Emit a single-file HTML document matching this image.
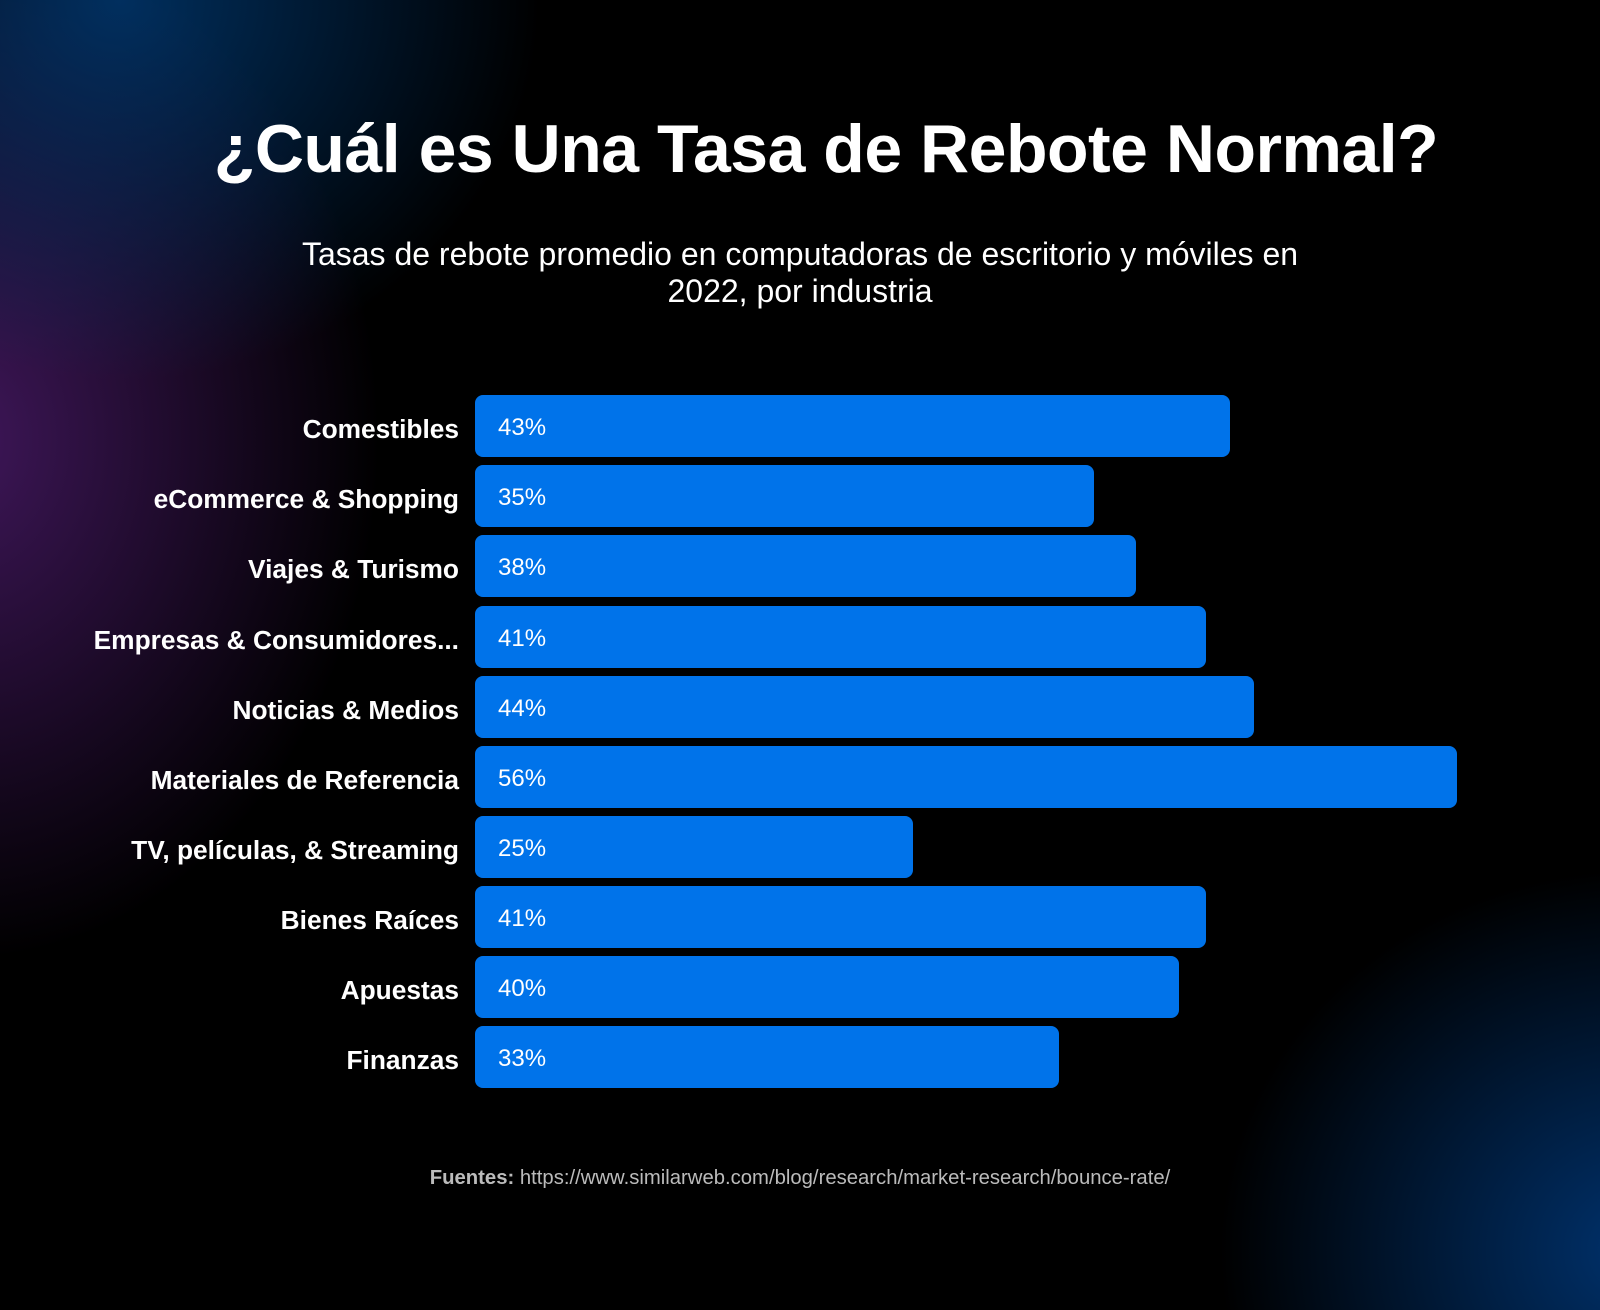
<!DOCTYPE html>
<html><head><meta charset="utf-8"><style>
html,body{margin:0;padding:0}
body{width:1600px;height:1310px;position:relative;overflow:hidden;background:#000;font-family:"Liberation Sans",sans-serif;color:#fff}
.bg{position:absolute;inset:0;background:
radial-gradient(ellipse 420px 380px at 120px 0px, rgba(0,55,110,0.85), rgba(0,0,0,0) 100%),
radial-gradient(ellipse 420px 520px at -40px 440px, rgba(70,25,100,0.9), rgba(0,0,0,0) 100%),
radial-gradient(ellipse 420px 380px at 1640px 1250px, rgba(0,55,120,0.9), rgba(0,0,0,0) 100%);}
.title{position:absolute;top:110px;left:26px;width:1600px;text-align:center;font-weight:bold;font-size:68px;letter-spacing:-0.5px}
.sub{position:absolute;top:236px;left:0;width:1600px;text-align:center;font-size:32px;line-height:37px}
.row{position:absolute;left:0;height:62px}
.lab{position:absolute;right:1141px;width:460px;text-align:right;font-weight:bold;font-size:26.3px;line-height:62px;top:3px;white-space:nowrap}
.bar{position:absolute;left:475px;height:62px;background:#0073EA;border-radius:8px}
.bar span{position:absolute;left:23px;top:2px;line-height:62px;font-size:24px}
.foot{position:absolute;top:1167px;left:0;width:1600px;text-align:center;font-size:20.3px;color:#bbb}
</style></head><body>
<div class="bg"></div>
<div class="title">¿Cuál es Una Tasa de Rebote Normal?</div>
<div class="sub">Tasas de rebote promedio en computadoras de escritorio y móviles en<br>2022, por industria</div>

<div class="row" style="top:395px;width:1600px"><div class="lab">Comestibles</div><div class="bar" style="width:755px"><span>43%</span></div></div>
<div class="row" style="top:465px;width:1600px"><div class="lab">eCommerce &amp; Shopping</div><div class="bar" style="width:619px"><span>35%</span></div></div>
<div class="row" style="top:535px;width:1600px"><div class="lab">Viajes &amp; Turismo</div><div class="bar" style="width:661px"><span>38%</span></div></div>
<div class="row" style="top:606px;width:1600px"><div class="lab">Empresas &amp; Consumidores...</div><div class="bar" style="width:731px"><span>41%</span></div></div>
<div class="row" style="top:676px;width:1600px"><div class="lab">Noticias &amp; Medios</div><div class="bar" style="width:779px"><span>44%</span></div></div>
<div class="row" style="top:746px;width:1600px"><div class="lab">Materiales de Referencia</div><div class="bar" style="width:982px"><span>56%</span></div></div>
<div class="row" style="top:816px;width:1600px"><div class="lab">TV, películas, &amp; Streaming</div><div class="bar" style="width:438px"><span>25%</span></div></div>
<div class="row" style="top:886px;width:1600px"><div class="lab">Bienes Raíces</div><div class="bar" style="width:731px"><span>41%</span></div></div>
<div class="row" style="top:956px;width:1600px"><div class="lab">Apuestas</div><div class="bar" style="width:704px"><span>40%</span></div></div>
<div class="row" style="top:1026px;width:1600px"><div class="lab">Finanzas</div><div class="bar" style="width:584px"><span>33%</span></div></div>

<div class="foot"><b>Fuentes:</b> https://www.similarweb.com/blog/research/market-research/bounce-rate/</div>
</body></html>
